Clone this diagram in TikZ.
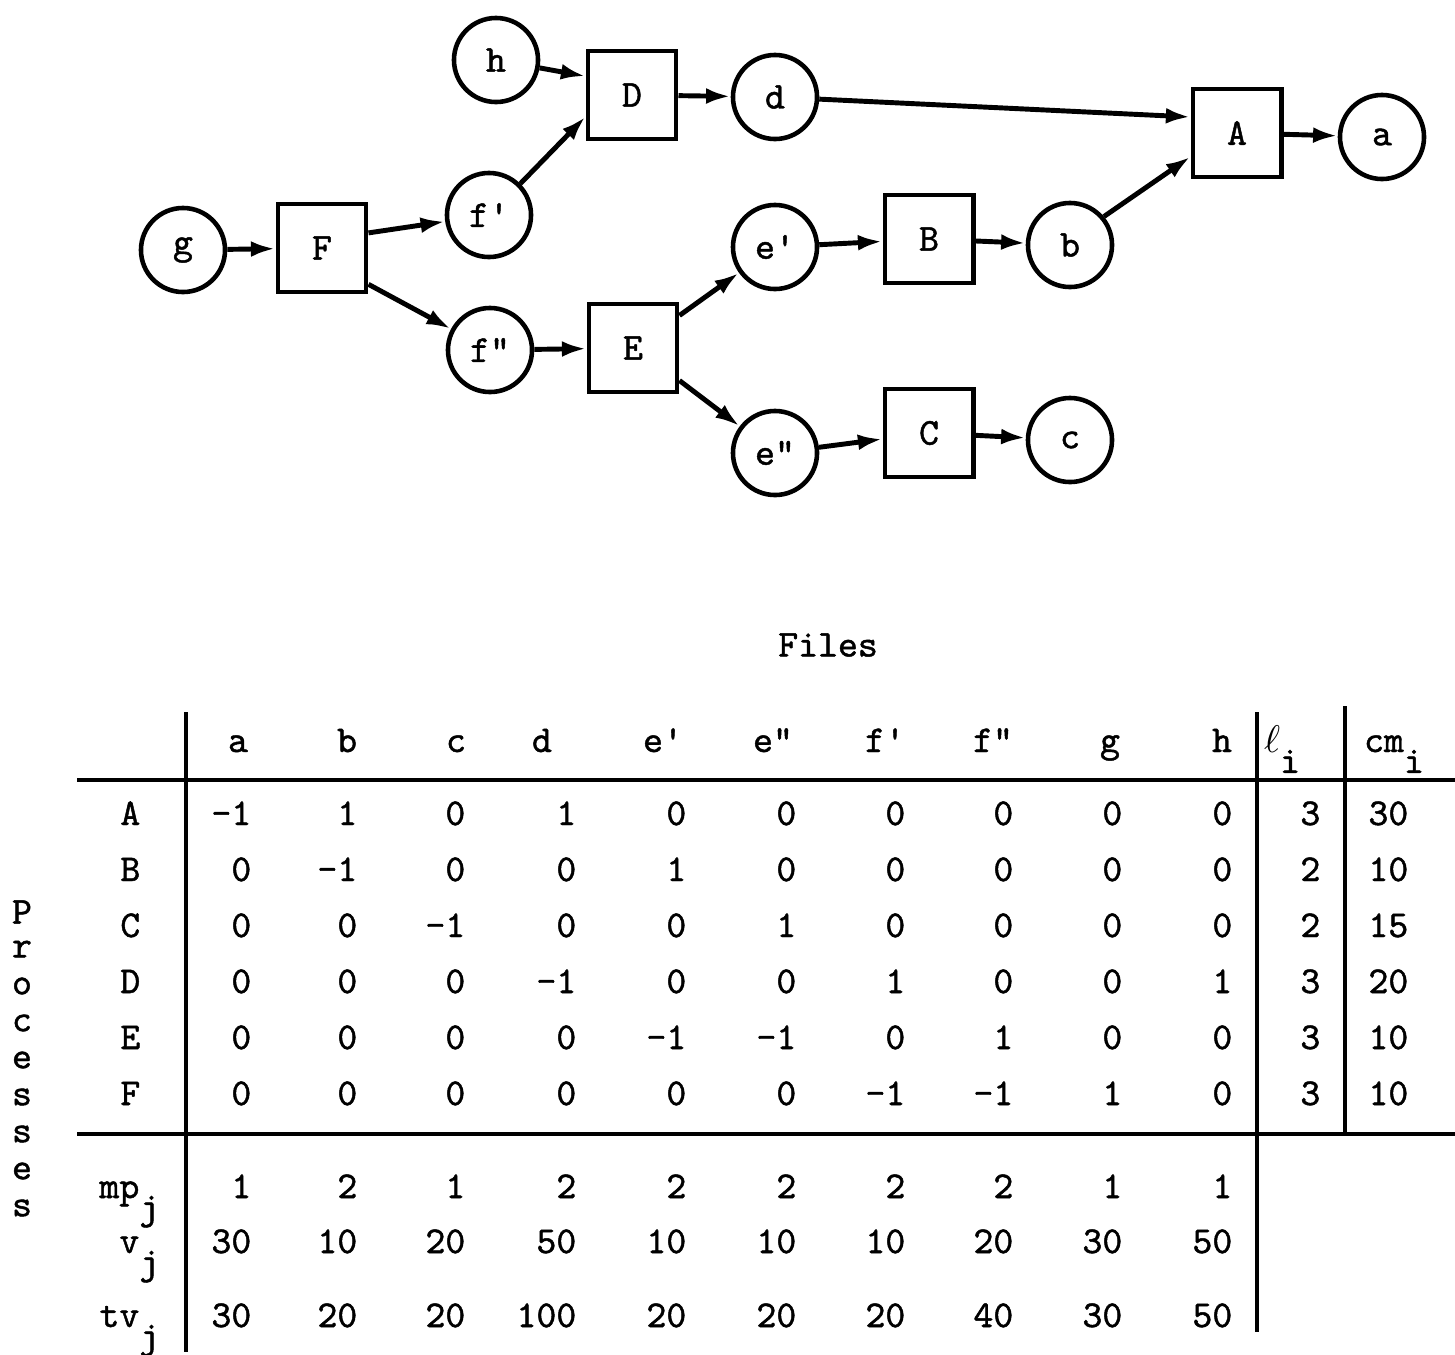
\documentclass[tikz,border=0pt]{standalone}
\usepackage{fontspec}
\setmonofont{Latin Modern Mono}[FakeBold=1.2]
\usepackage{tikz}
\usetikzlibrary{arrows.meta,
                calc,
                positioning}
\tikzstyle{file} = [circle, draw=black, line width=1.3pt, minimum size=0.84cm, inner sep=0pt]
\tikzstyle{proc} = [rectangle, draw=black, line width=1.4pt, minimum size=0.88cm, inner sep=0pt]
\tikzstyle{arrow} = [line width=1.4pt,-{Latex[length=7pt,width=4.5pt]}]
\tikzstyle{rule} = [line width=1.3pt]
\tikzstyle{cell} = [anchor=base east, inner sep=0pt]
\newcommand{\lowsub}[1]{\raisebox{-0.55em}{#1}}

\begin{document}
\begin{tikzpicture}[x=0.01cm, y=-0.01cm, font=\fontsize{10.8}{13}\selectfont\ttfamily]
        \useasboundingbox (0,0) rectangle (1455,1354);
        % files (circles) and processes (boxes)
        \node (g) [file] at (183,250) {g};
        \node (F) [proc] at (322,248) {F};
        \node (fp) [file] at (489,215) {f'};
        \node (fpp) [file] at (490,350) {f"};
        \node (h) [file] at (496,60) {h};
        \node (D) [proc] at (632,95) {D};
        \node (d) [file] at (775,97) {d};
        \node (E) [proc] at (633,348) {E};
        \node (ep) [file] at (775,247) {e'};
        \node (epp) [file] at (775,453) {e"};
        \node (B) [proc] at (929,239) {B};
        \node (b) [file] at (1070,245) {b};
        \node (C) [proc] at (929,433) {C};
        \node (c) [file] at (1070,440) {c};
        \node (A) [proc] at (1237,133) {A};
        \node (a) [file] at (1382,137) {a};
        \draw [arrow] (g) -- (F);
        \draw [arrow] (F.18) -- (fp);
        \draw [arrow] (F.-38) -- (fpp);
        \draw [arrow] (h) -- (D.158);
        \draw [arrow] (fp.45) -- (D.205);
        \draw [arrow] (D) -- (d);
        \draw [arrow] (d) -- (A.161);
        \draw [arrow] (fpp) -- (E);
        \draw [arrow] (E.35) -- (ep);
        \draw [arrow] (E.-35) -- (epp);
        \draw [arrow] (ep) -- (B);
        \draw [arrow] (B) -- (b);
        \draw [arrow] (b.40) -- (A.207);
        \draw [arrow] (epp) -- (C);
        \draw [arrow] (C) -- (c);
        \draw [arrow] (A) -- (a);
        % 
        % process/file table
        \node (files) at (828,645) {Files};
        \foreach \lbl/\x [count=\k] in {a/238,b/347,c/456,d/542,e'/663,e"/773,f'/885,f"/993,g/1110,h/1222}
            \node (head\k) [anchor=base] at (\x,752) {\lbl};
        \node (headl) [anchor=base] at (1282,752) {$\ell$\lowsub{i}};
        \node (headcm) [anchor=base] at (1394,752) {cm\lowsub{i}};
        \def\colx{{252,358,466,577,687,797,906,1014,1123,1233,1321,1409}}
        \foreach \proc/\vals [count=\r] in {A/{-1,1,0,1,0,0,0,0,0,0,3,30},
                                            B/{0,-1,0,0,1,0,0,0,0,0,2,10},
                                            C/{0,0,-1,0,0,1,0,0,0,0,2,15},
                                            D/{0,0,0,-1,0,0,1,0,0,1,3,20},
                                            E/{0,0,0,0,-1,-1,0,1,0,0,3,10},
                                            F/{0,0,0,0,0,0,-1,-1,1,0,3,10}} {
            \pgfmathsetmacro\yy{814+56*(\r-1)+11}
            \node (row\r) [cell] at (141,\yy) {\proc};
            \foreach \v [count=\k] in \vals {
                \pgfmathsetmacro\xx{\colx[\k-1]}
                \node (m-\r-\k) [cell] at (\xx,\yy) {\v};
            }
        }
        \foreach \lbl/\y/\vals [count=\r] in {mp/1187/{1,2,1,2,2,2,2,2,1,1},
                                            v/1242/{30,10,20,50,10,10,10,20,30,50},
                                            tv/1316/{30,20,20,100,20,20,20,40,30,50}} {
            \node (foot\r) [cell] at (160,\y+11) {\lbl\lowsub{j}};
            \foreach \v [count=\k] in \vals {
                \pgfmathsetmacro\xx{\colx[\k-1]}
                \node (s-\r-\k) [cell] at (\xx,\y+11) {\v};
            }
        }
        \foreach \ch [count=\k] in {P,r,o,c,e,s,s,e,s}
            \node (side\k) at (22,{912+37*(\k-1)}) {\ch};
        \draw [rule] (186,712) -- (186,1352);
        \draw [rule] (1257,712) -- (1257,1332);
        \draw [rule] (1345,706) -- (1345,1134);
        \draw [rule] (77,780) -- (1455,780);
        \draw [rule] (77,1134) -- (1455,1134);
\end{tikzpicture}
\end{document}
